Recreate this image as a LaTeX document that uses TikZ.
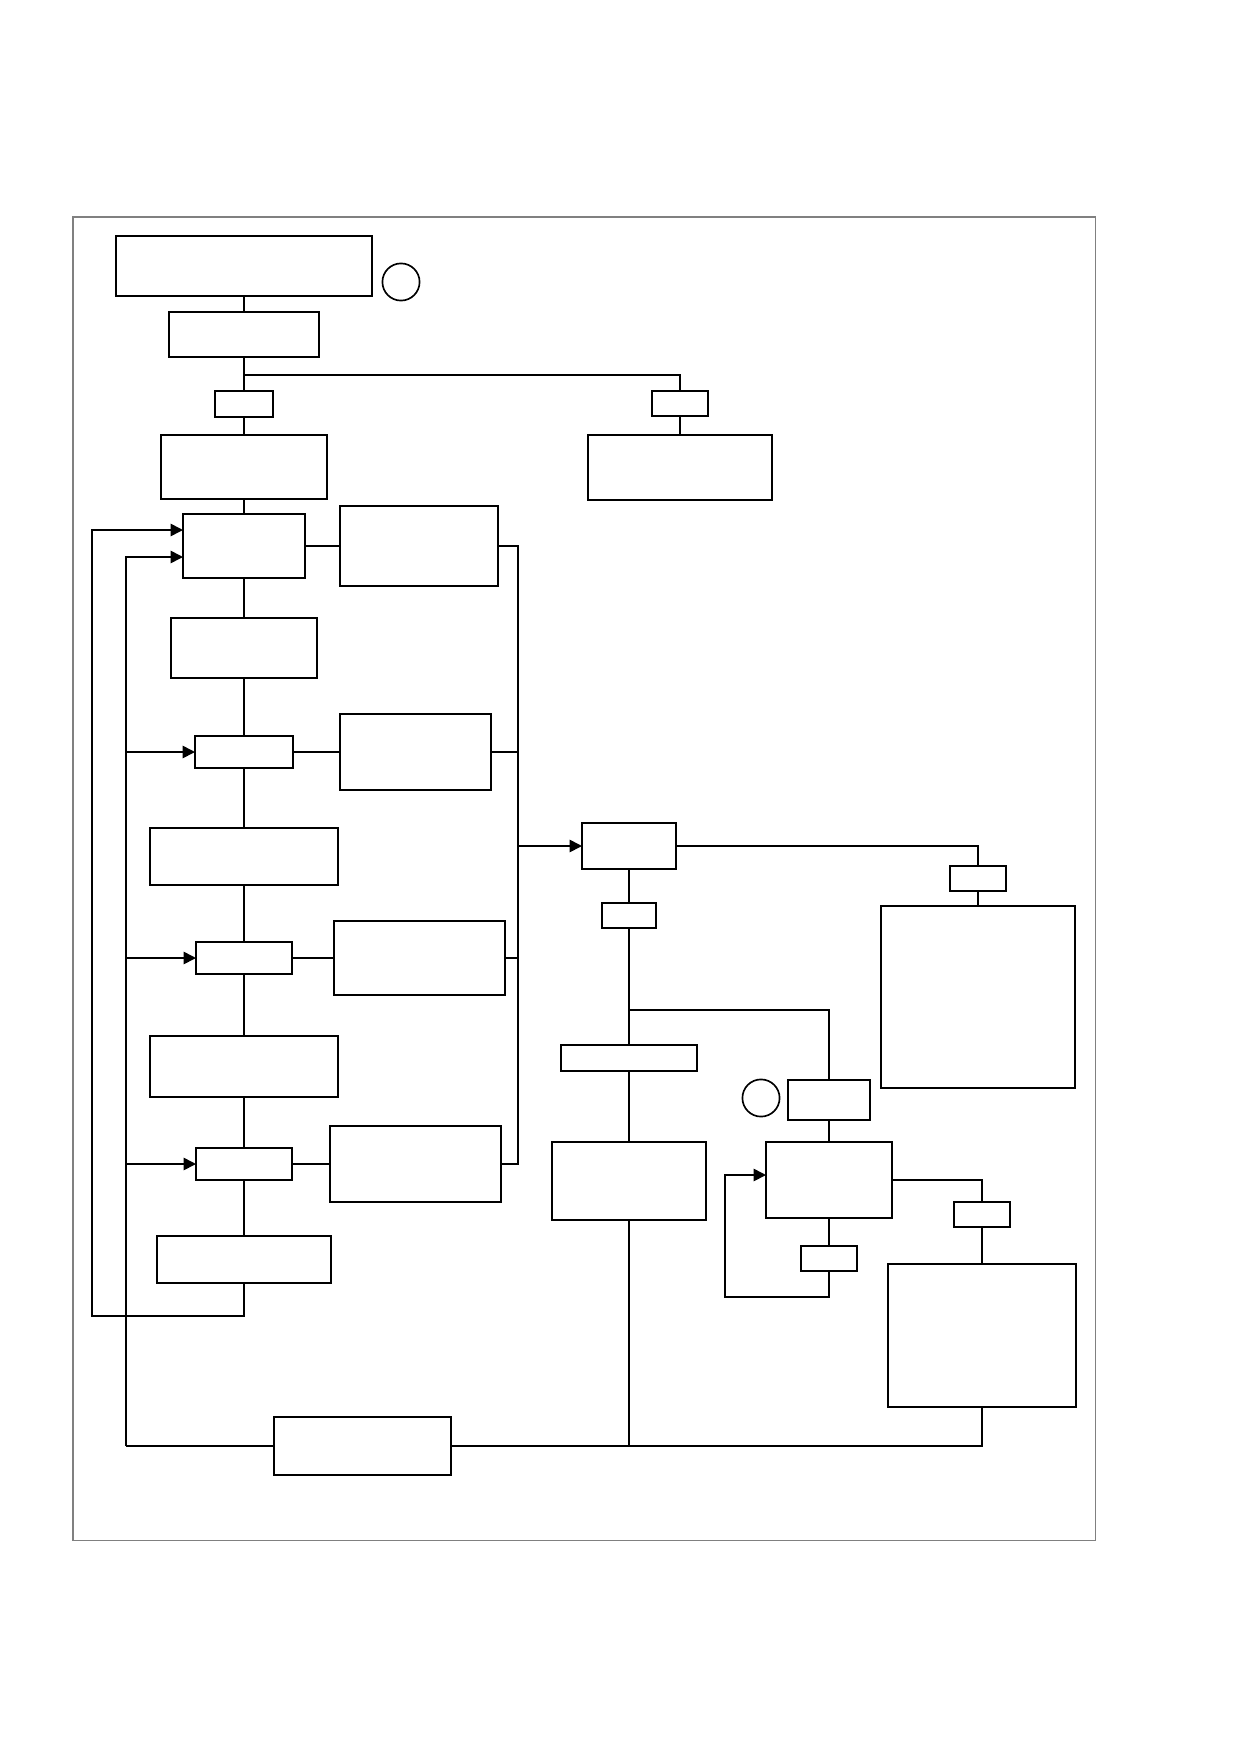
\documentclass[tikz,border=0pt]{standalone}
\usetikzlibrary{arrows.meta,fit}
\begin{document}
\begin{tikzpicture}[x=0.016949cm, y=-0.016949cm, line width=0.8pt,
    box/.style={draw, inner sep=0pt, outer sep=0pt},
    ring/.style={draw, circle, inner sep=0pt, outer sep=0pt, minimum size=0.63cm},
    >={Triangle[length=6pt,width=6pt]}]
    \useasboundingbox (0,0) rectangle (1239,1754);
    %\draw[gray!40, thin, step=100] (0,0) grid (1239,1754);
    \draw[gray, line width=0.5pt] (73,217) rectangle (1095,1540);

    \node[box, fit={(116,236) (372,296)}] (top) {};
    \node[ring] (c1) at (401,282) {};
    \node[box, fit={(169,312) (319,357)}] (init) {};
    \node[box, fit={(215,391) (273,417)}] (yes1) {};
    \node[box, fit={(652,391) (708,416)}] (no1) {};
    \node[box, fit={(161,435) (327,499)}] (prep) {};
    \node[box, fit={(588,435) (772,500)}] (stop) {};

    \node[box, fit={(183,514) (305,578)}] (s1) {};
    \node[box, fit={(340,506) (498,586)}] (f1) {};
    \node[box, fit={(171,618) (317,678)}] (s2) {};
    \node[box, fit={(195,736) (293,768)}] (q1) {};
    \node[box, fit={(340,714) (491,790)}] (f2) {};
    \node[box, fit={(150,828) (338,885)}] (s3) {};
    \node[box, fit={(196,942) (292,974)}] (q2) {};
    \node[box, fit={(334,921) (505,995)}] (f3) {};
    \node[box, fit={(150,1036) (338,1097)}] (s4) {};
    \node[box, fit={(196,1148) (292,1180)}] (q3) {};
    \node[box, fit={(330,1126) (501,1202)}] (f4) {};
    \node[box, fit={(157,1236) (331,1283)}] (s5) {};
    \node[box, fit={(274,1417) (451,1475)}] (back) {};

    \node[box, fit={(582,823) (676,869)}] (err) {};
    \node[box, fit={(950,866) (1006,891)}] (yes2) {};
    \node[box, fit={(881,906) (1075,1088)}] (out1) {};
    \node[box, fit={(602,903) (656,928)}] (no2) {};
    \node[box, fit={(561,1045) (697,1071)}] (yes3) {};
    \node[box, fit={(552,1142) (706,1220)}] (fix) {};
    \node[ring] (c2) at (761,1098) {};
    \node[box, fit={(788,1080) (870,1120)}] (no3) {};
    \node[box, fit={(766,1142) (892,1218)}] (wait) {};
    \node[box, fit={(801,1246) (857,1271)}] (yes4) {};
    \node[box, fit={(954,1202) (1010,1227)}] (no4) {};
    \node[box, fit={(888,1264) (1076,1407)}] (out2) {};

    \coordinate (sp1) at (244,375);
    \coordinate (bt) at (518,546);
    \coordinate (bb) at (518,1164);
    \coordinate (lo) at (92,1316);
    \coordinate (in1) at (92,530);
    \coordinate (il) at (126,1446);
    \coordinate (in2) at (126,557);
    \coordinate (br) at (982,1446);
    \coordinate (sp2) at (629,1010);
    \coordinate (lp) at (725,1297);
    \coordinate (in3) at (725,1175);

    \draw (top) -- (init) -- (yes1) -- (prep) -- (s1);
    \draw (sp1) -| (no1);
    \draw (no1) -- (stop);
    \draw (s1) -- (s2) -- (q1) -- (s3) -- (q2) -- (s4) -- (q3) -- (s5);

    \draw (s1) -- (f1);
    \foreach \q/\f in {q1/f2,q2/f3,q3/f4} \draw (\q) -- (\f);
    \draw (f1) -- (bt) -- (bb) -- (f4);
    \foreach \f in {f2,f3} \draw (\f) -- (\f -| bt);
    \draw[->] (bt |- err) -- (err);

    \draw[->] (s5) |- (lo) -- (in1) -- (s1.west |- in1);
    \draw[->] (il) -- (in2) -- (s1.west |- in2);
    \foreach \q in {q1,q2,q3} \draw[->] (il |- \q) -- (\q);
    \draw (il) -- (back);
    \draw (back) -- (br) -- (out2);

    \draw (err) -| (yes2);
    \draw (yes2) -- (out1);
    \draw (err) -- (no2) -- (yes3) -- (fix);
    \draw (fix) -- (fix |- br);
    \draw (sp2) -| (no3);
    \draw (no3) -- (wait) -- (yes4);
    \draw[->] (yes4) |- (lp) -- (in3) -- (wait.west |- in3);
    \draw (wait) -| (no4);
    \draw (no4) -- (out2);
\end{tikzpicture}
\end{document}
